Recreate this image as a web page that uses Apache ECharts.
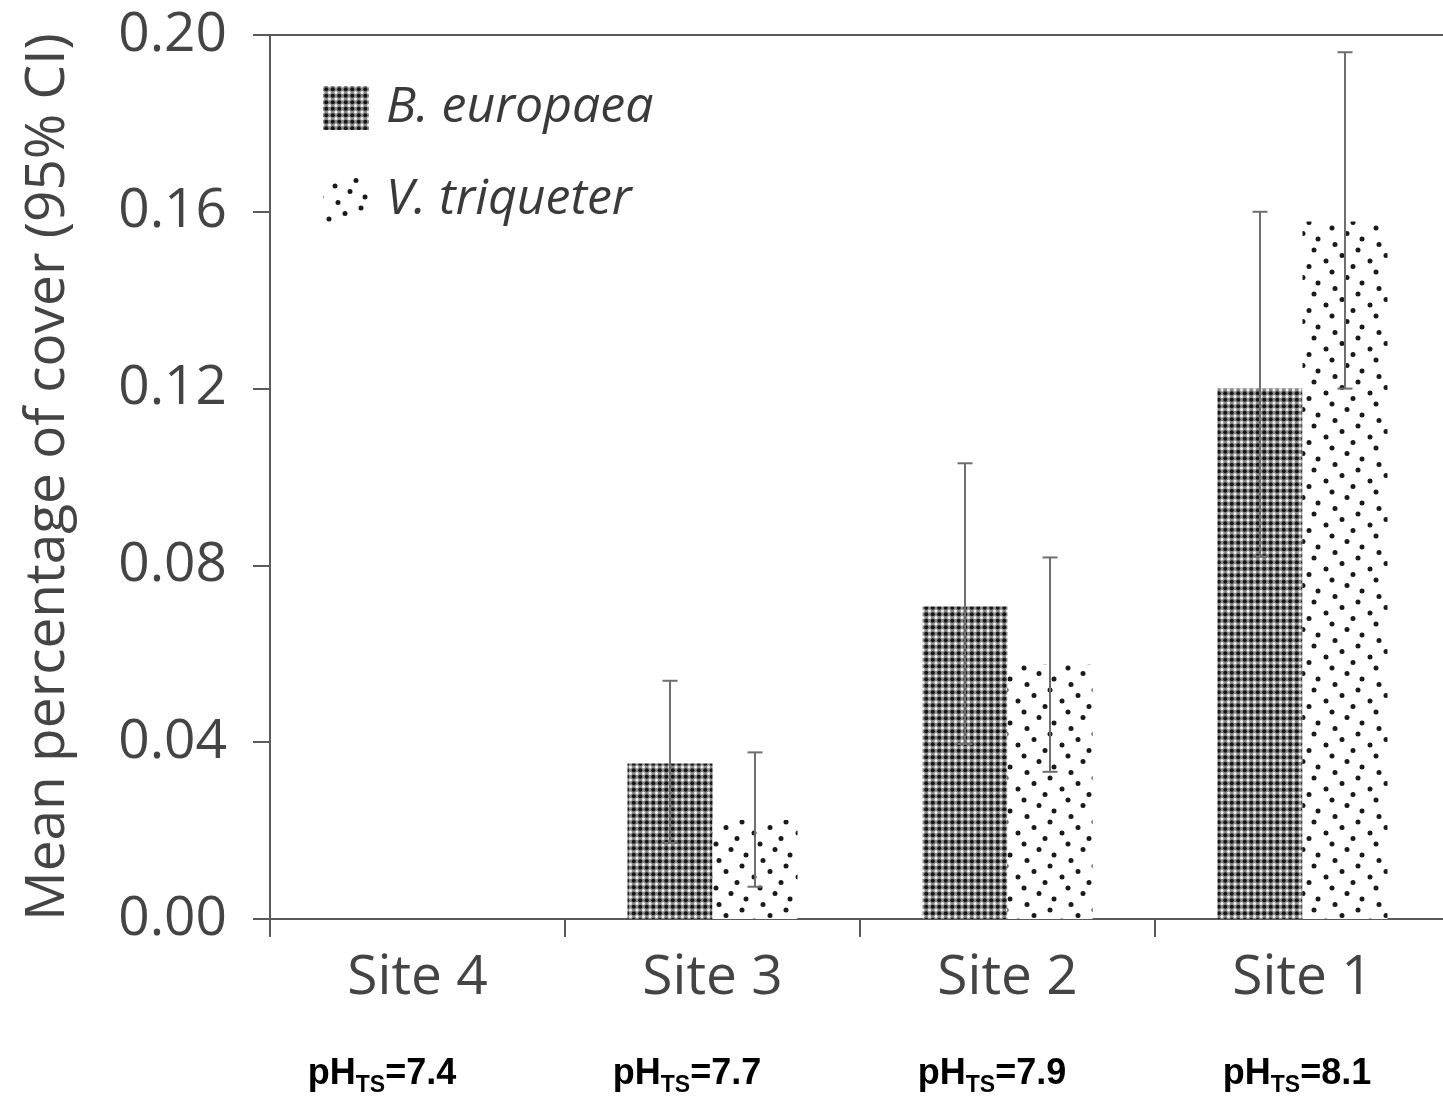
<!DOCTYPE html>
<html>
<head>
<meta charset="utf-8">
<script src="https://cdn.jsdelivr.net/npm/echarts@6/dist/echarts.min.js"></script>
<style>
  html, body { margin: 0; padding: 0; background: #ffffff; }
  #chart { width: 1443px; height: 1097px; }
</style>
</head>
<body>
<div id="chart"></div>
<script>
// Sites, seawater pH and mean cover with 95% confidence limits
const categories = ['Site 4', 'Site 3', 'Site 2', 'Site 1'];
const phValues = ['7.4', '7.7', '7.9', '8.1'];

const europaeaMean = [0, 0.0352, 0.0707, 0.1200];
const europaeaLow = [null, 0.0172, 0.0396, 0.0820];
const europaeaHigh = [null, 0.0539, 0.1031, 0.1600];

const triqueterMean = [0, 0.0224, 0.0575, 0.1578];
const triqueterLow = [null, 0.0073, 0.0333, 0.1200];
const triqueterHigh = [null, 0.0377, 0.0818, 0.1961];

const yMin = 0, yMax = 0.20, yStep = 0.04;

const FONT = '"Open Sans", "Noto Sans", sans-serif';
const BOLD_FONT = '"Liberation Sans", Arial, sans-serif';
const BAR_W = 85;

// Dense halftone fill: black dots on grey with light spots between
function densePattern() {
  const c = document.createElement('canvas');
  c.width = 13; c.height = 13;
  const g = c.getContext('2d');
  g.fillStyle = '#8a8a8a';
  g.fillRect(0, 0, 13, 13);
  g.fillStyle = '#f4f4f4';
  [0, 6.5, 13].forEach(x => [0, 6.5, 13].forEach(y => {
    g.beginPath(); g.arc(x, y, 1.5, 0, Math.PI * 2); g.fill();
  }));
  g.fillStyle = '#151515';
  [3.25, 9.75].forEach(x => [3.25, 9.75].forEach(y => {
    g.beginPath(); g.arc(x, y, 2.0, 0, Math.PI * 2); g.fill();
  }));
  return { image: c, repeat: 'repeat' };
}

// Sparse stippled fill: scattered black dots on white
function sparsePattern() {
  const s = 44;
  const c = document.createElement('canvas');
  c.width = s; c.height = s;
  const g = c.getContext('2d');
  g.fillStyle = '#ffffff';
  g.fillRect(0, 0, s, s);
  g.fillStyle = '#1a1a1a';
  const xs = [33, 12, 27, 42, 15, 38, 22, 6];
  xs.forEach((x, i) => {
    const y = 2.5 + i * 5.5;
    [-s, 0, s].forEach(dx => [-s, 0, s].forEach(dy => {
      g.beginPath(); g.arc(x + dx, y + dy, 2.5, 0, Math.PI * 2); g.fill();
    }));
  });
  return { image: c, repeat: 'repeat' };
}

function ciData(low, high) {
  return categories.map((_, i) => [i, low[i], high[i]]);
}

function errorBars(offset) {
  return function (params, api) {
    const lo = api.value(1), hi = api.value(2);
    if (lo == null || hi == null || isNaN(lo) || isNaN(hi)) return;
    const idx = api.value(0);
    const pLo = api.coord([idx, lo]);
    const pHi = api.coord([idx, hi]);
    const x = pLo[0] + offset;
    const cap = 7.5;
    const style = { stroke: '#6e6e6e', lineWidth: 2 };
    return {
      type: 'group',
      children: [
        { type: 'line', shape: { x1: x, y1: pLo[1], x2: x, y2: pHi[1] }, style },
        { type: 'line', shape: { x1: x - cap, y1: pHi[1], x2: x + cap, y2: pHi[1] }, style },
        { type: 'line', shape: { x1: x - cap, y1: pLo[1], x2: x + cap, y2: pLo[1] }, style }
      ]
    };
  };
}

const axisGrey = { color: '#5a5a5a', width: 2 };

const chart = echarts.init(document.getElementById('chart'), null, { renderer: 'canvas' });

chart.setOption({
  backgroundColor: '#ffffff',
  animation: false,
  grid: [
    { left: 270, top: 35, width: 1180, bottom: 178, containLabel: false, outerBoundsMode: 'none' },
    { left: 229.5, top: 1030, width: 1220, height: 1, containLabel: false, outerBoundsMode: 'none' }
  ],
  legend: {
    data: ['B. europaea', 'V. triqueter'],
    orient: 'vertical',
    left: 318,
    top: 78,
    itemWidth: 46,
    itemHeight: 44,
    itemGap: 42,
    icon: 'rect',
    textStyle: {
      fontFamily: FONT,
      fontStyle: 'italic',
      fontSize: 50,
      lineHeight: 44,
      color: '#3a3a3a',
      padding: [0, 0, 0, 12]
    },
    selectedMode: false
  },
  xAxis: [
    {
      type: 'category',
      gridIndex: 0,
      position: 'bottom',
      data: categories,
      axisLine: { lineStyle: axisGrey },
      axisTick: { show: true, length: 18, alignWithLabel: false, lineStyle: axisGrey },
      axisLabel: {
        fontFamily: FONT,
        fontSize: 55,
        color: '#444444',
        margin: 32
      }
    },
    {
      // upper frame line
      type: 'category',
      gridIndex: 0,
      position: 'top',
      data: categories,
      axisLine: { lineStyle: axisGrey },
      axisTick: { show: false },
      axisLabel: { show: false }
    },
    {
      type: 'category',
      gridIndex: 1,
      position: 'bottom',
      data: phValues,
      axisLine: { show: false },
      axisTick: { show: false },
      axisLabel: {
        margin: 20,
        formatter: v => '{b|pH}{s|TS}{b|=' + v + '}',
        rich: {
          b: { fontFamily: BOLD_FONT, fontWeight: 'bold', fontSize: 36, color: '#000', lineHeight: 46, verticalAlign: 'middle' },
          s: { fontFamily: BOLD_FONT, fontWeight: 'bold', fontSize: 23, color: '#000', lineHeight: 23, verticalAlign: 'bottom' }
        }
      }
    }
  ],
  yAxis: [
    {
      type: 'value',
      gridIndex: 0,
      min: yMin,
      max: yMax,
      interval: yStep,
      name: 'Mean percentage of cover (95% CI)',
      nameLocation: 'middle',
      nameGap: 194,
      nameTextStyle: { fontFamily: FONT, fontSize: 55, color: '#444444' },
      axisLine: { show: true, lineStyle: axisGrey },
      axisTick: { show: true, length: 17, lineStyle: axisGrey },
      splitLine: { show: false },
      axisLabel: {
        fontFamily: FONT,
        fontSize: 55,
        color: '#444444',
        margin: 43,
        formatter: v => v.toFixed(2)
      }
    },
    {
      type: 'value',
      gridIndex: 1,
      show: false
    }
  ],
  series: [
    {
      name: 'B. europaea',
      type: 'bar',
      xAxisIndex: 0,
      yAxisIndex: 0,
      data: europaeaMean,
      barWidth: BAR_W,
      barGap: '0%',
      itemStyle: { color: densePattern() },
      z: 2
    },
    {
      name: 'V. triqueter',
      type: 'bar',
      xAxisIndex: 0,
      yAxisIndex: 0,
      data: triqueterMean,
      barWidth: BAR_W,
      barGap: '0%',
      itemStyle: { color: sparsePattern() },
      z: 2
    },
    {
      name: 'B. europaea CI',
      type: 'custom',
      xAxisIndex: 0,
      yAxisIndex: 0,
      data: ciData(europaeaLow, europaeaHigh),
      renderItem: errorBars(-BAR_W / 2),
      encode: { x: 0, y: [1, 2] },
      z: 5,
      silent: true
    },
    {
      name: 'V. triqueter CI',
      type: 'custom',
      xAxisIndex: 0,
      yAxisIndex: 0,
      data: ciData(triqueterLow, triqueterHigh),
      renderItem: errorBars(BAR_W / 2),
      encode: { x: 0, y: [1, 2] },
      z: 5,
      silent: true
    }
  ]
});
</script>
</body>
</html>
